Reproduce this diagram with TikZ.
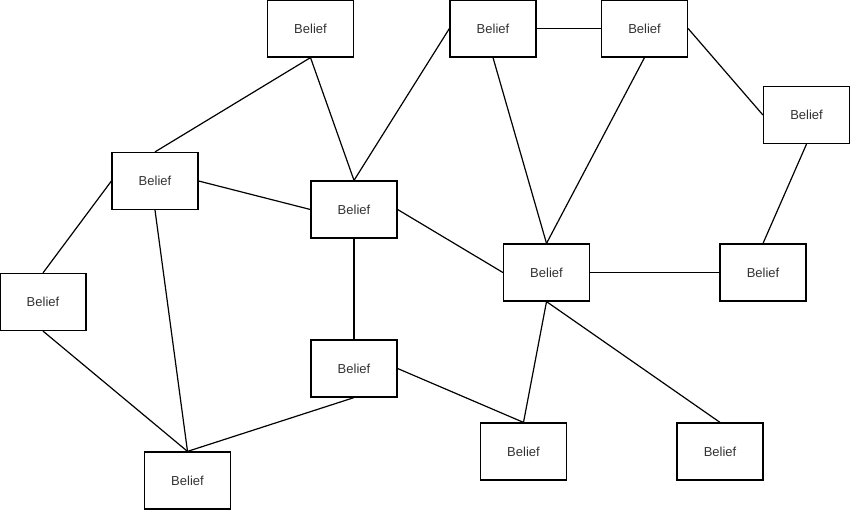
\documentclass[tikz,border=0pt]{standalone}
\usepackage{fontspec}
\setmainfont{Liberation Sans}
\begin{document}
\begin{tikzpicture}[x=1pt,y=-1pt,
  belief/.style={draw=black,line width=1.2pt,fill=white,minimum width=86pt,minimum height=57pt,inner sep=0pt,font=\fontsize{13}{15}\selectfont,text=black!80},
  link/.style={draw=black,line width=1.2pt}]
\useasboundingbox (0,0) rectangle (850,510);
\node[belief] (b1) at (310.5,28.5) {Belief};
\node[belief] (b2) at (493,28.5) {Belief};
\node[belief] (b3) at (644.5,28.5) {Belief};
\node[belief] (b4) at (806.5,115) {Belief};
\node[belief] (b5) at (155,181) {Belief};
\node[belief] (b6) at (354,209.5) {Belief};
\node[belief] (b7) at (546.5,272.5) {Belief};
\node[belief] (b8) at (763,272.5) {Belief};
\node[belief] (b9) at (43,302) {Belief};
\node[belief] (b10) at (354,368.5) {Belief};
\node[belief] (b11) at (523.5,451.5) {Belief};
\node[belief] (b12) at (720,451.5) {Belief};
\node[belief] (b13) at (187.5,480.5) {Belief};
\begin{scope}[on background layer/.style={}]
\end{scope}
\draw[link] (b1.south) -- (b5.north);
\draw[link] (b1.south) -- (b6.north);
\draw[link] (b2.west) -- (b6.north);
\draw[link] (b2.east) -- (b3.west);
\draw[link] (b2.south) -- (b7.north);
\draw[link] (b3.south) -- (b7.north);
\draw[link] (b3.east) -- (b4.west);
\draw[link] (b4.south) -- (b8.north);
\draw[link] (b5.east) -- (b6.west);
\draw[link] (b5.west) -- (b9.north);
\draw[link] (b5.south) -- (b13.north);
\draw[link] (b9.south) -- (b13.north);
\draw[link] (b6.south) -- (b10.north);
\draw[link] (b6.east) -- (b7.west);
\draw[link] (b7.east) -- (b8.west);
\draw[link] (b7.south) -- (b11.north);
\draw[link] (b7.south) -- (b12.north);
\draw[link] (b10.south) -- (b13.north);
\draw[link] (b10.east) -- (b11.north);
\end{tikzpicture}
\end{document}
